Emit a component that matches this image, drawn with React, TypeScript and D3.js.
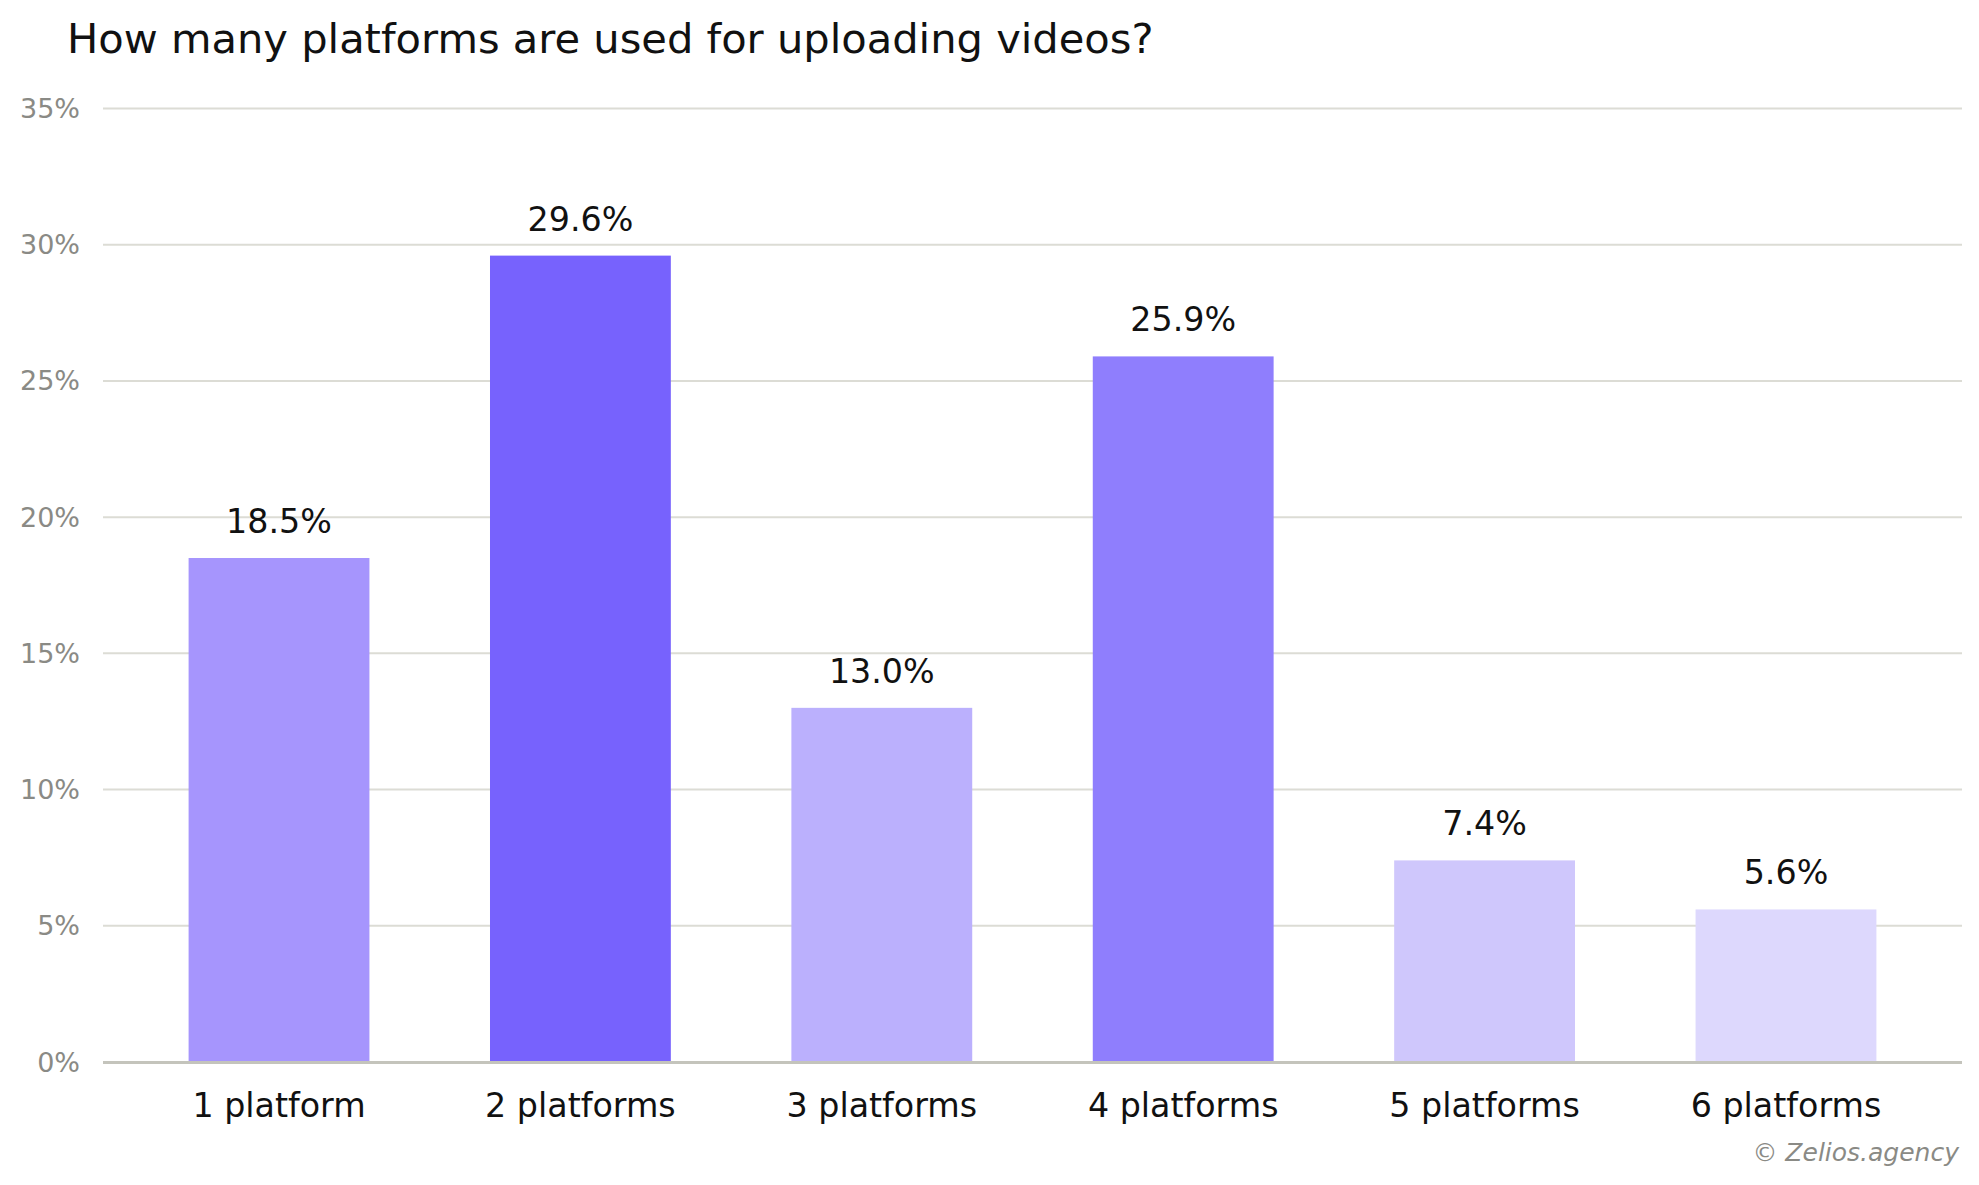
import * as d3 from 'd3';

const categories = ['1 platform', '2 platforms', '3 platforms', '4 platforms', '5 platforms', '6 platforms'];
const values = [18.5, 29.6, 13.0, 25.9, 7.4, 5.6];
const barColors = ['#a695fd', '#7762fd', '#bbb0fd', '#8f7efd', '#cfc7fc', '#ddd8fd'];
const yTicks = [0, 5, 10, 15, 20, 25, 30, 35];

const W = 1979;
const H = 1185;
const FONT = 'DejaVu Sans, Verdana, sans-serif';

export default function App() {
    const left = 103;
    const right = 1962;
    const y0 = 1062;
    const yTop = 108.5;

    const x = d3.scaleBand<string>()
        .domain(categories)
        .range([left, right])
        .paddingInner(0.4)
        .paddingOuter(0.284);

    const y = d3.scaleLinear()
        .domain([0, 35])
        .range([y0, yTop]);

    return (
        <div style={{ position: 'absolute', left: 0, top: 0, width: W, height: H, background: '#fff' }}>
            <svg width={W} height={H} style={{ display: 'block' }} fontFamily={FONT}>
                <rect x={0} y={0} width={W} height={H} fill="#fff" />
                <text x={67} y={53} fontSize={41.6} fill="#111">
                    How many platforms are used for uploading videos?
                </text>

                {/* grid lines and y tick labels */}
                {yTicks.map((t) => (
                    <g key={t}>
                        {t > 0 && (
                            <line x1={left} x2={right} y1={y(t)} y2={y(t)} stroke="#dcdcd5" strokeWidth={2} />
                        )}
                        <text x={80} y={y(t) + 9.5} fontSize={27} fill="#8a8a85" textAnchor="end">
                            {t}%
                        </text>
                    </g>
                ))}

                {/* bars */}
                {values.map((v, i) => (
                    <rect
                        key={categories[i]}
                        x={x(categories[i])}
                        y={y(v)}
                        width={x.bandwidth()}
                        height={y0 - y(v)}
                        fill={barColors[i]}
                    />
                ))}

                {/* baseline */}
                <line x1={left} x2={right} y1={y0 + 0.5} y2={y0 + 0.5} stroke="#c4c4bc" strokeWidth={3} />

                {/* value labels */}
                {values.map((v, i) => (
                    <text
                        key={'v' + i}
                        x={(x(categories[i]) || 0) + x.bandwidth() / 2}
                        y={y(v) - 25}
                        fontSize={33.3}
                        fill="#111"
                        textAnchor="middle"
                    >
                        {v.toFixed(1)}%
                    </text>
                ))}

                {/* category labels */}
                {categories.map((c) => (
                    <text
                        key={c}
                        x={(x(c) || 0) + x.bandwidth() / 2}
                        y={1117}
                        fontSize={33.3}
                        fill="#111"
                        textAnchor="middle"
                    >
                        {c}
                    </text>
                ))}

                <text x={1959} y={1161} fontSize={25} fill="#8a8a85" fontStyle="italic" textAnchor="end">
                    © Zelios.agency
                </text>
            </svg>
        </div>
    );
}
